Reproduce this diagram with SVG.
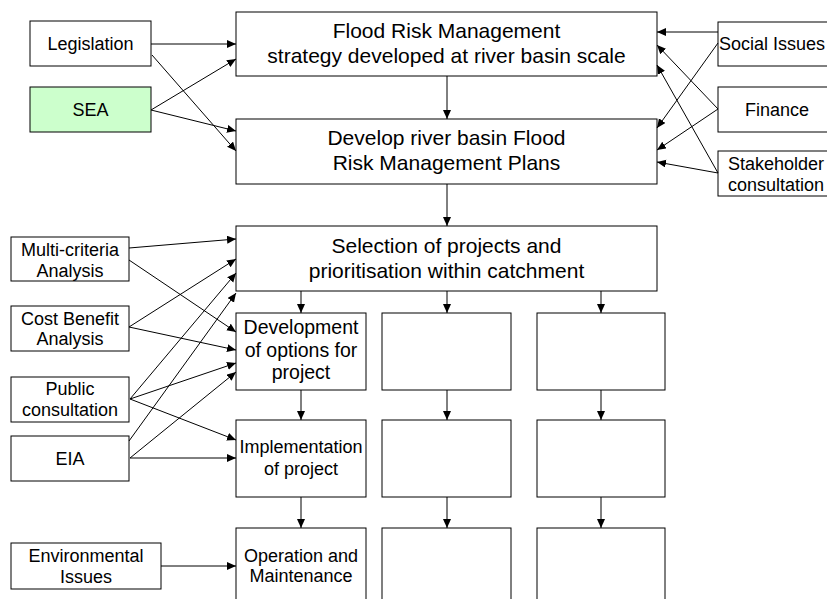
<svg xmlns="http://www.w3.org/2000/svg" width="827" height="599" viewBox="0 0 827 599">
<style>
.b{fill:#fff;stroke:#000;stroke-width:1}
.g{fill:#ccffcc;stroke:#000;stroke-width:1}
.t{font-family:"Liberation Sans",Arial,sans-serif;fill:#000;text-anchor:middle}
.L{font-size:21px}
.S{font-size:18px}
.M{font-size:19.5px}
.c line{stroke:#000;stroke-width:1;marker-end:url(#a)}
</style>
<defs>
<marker id="a" markerUnits="userSpaceOnUse" markerWidth="10" markerHeight="9" refX="9" refY="4" orient="auto">
<path d="M0,0 L9,4 L0,8 z" fill="#000"/>
</marker>
</defs>
<rect width="827" height="599" fill="#fff"/>
<g id="legislation"><rect class="b" x="30" y="21" width="121" height="45"/><text class="t S" x="90.5" y="50">Legislation</text></g>
<g id="sea"><rect class="g" x="30" y="87" width="121" height="45"/><text class="t S" x="90.5" y="116">SEA</text></g>
<g id="strategy"><rect class="b" x="236" y="12" width="421" height="64"/><text class="t L" x="446.5" y="38">Flood Risk Management</text><text class="t L" x="446.5" y="63">strategy developed at river basin scale</text></g>
<g id="plans"><rect class="b" x="236" y="119" width="421" height="65"/><text class="t L" x="446.5" y="145">Develop river basin Flood</text><text class="t L" x="446.5" y="170">Risk Management Plans</text></g>
<g id="social"><rect class="b" x="718" y="22" width="118" height="44"/><text class="t S" x="772" y="50">Social Issues</text></g>
<g id="finance"><rect class="b" x="718" y="87" width="118" height="45"/><text class="t S" x="777" y="116">Finance</text></g>
<g id="stakeholder"><rect class="b" x="718" y="151" width="118" height="45"/><text class="t S" x="776" y="170">Stakeholder</text><text class="t S" x="776" y="190.5">consultation</text></g>
<g id="selection"><rect class="b" x="236" y="226" width="421" height="65"/><text class="t L" x="446.5" y="252.5">Selection of projects and</text><text class="t L" x="446.5" y="277.5">prioritisation within catchment</text></g>
<g id="mca"><rect class="b" x="11" y="237" width="118" height="44"/><text class="t S" x="70" y="256">Multi-criteria</text><text class="t S" x="70" y="276.5">Analysis</text></g>
<g id="cba"><rect class="b" x="11" y="306" width="118" height="45"/><text class="t S" x="70" y="324.5">Cost Benefit</text><text class="t S" x="70" y="345">Analysis</text></g>
<g id="public"><rect class="b" x="11" y="377" width="118" height="45"/><text class="t S" x="70" y="395">Public</text><text class="t S" x="70" y="415.5">consultation</text></g>
<g id="eia"><rect class="b" x="11" y="436" width="118" height="45"/><text class="t S" x="70" y="465">EIA</text></g>
<g id="env"><rect class="b" x="11" y="543" width="150" height="46"/><text class="t S" x="86" y="562">Environmental</text><text class="t S" x="86" y="582.5">Issues</text></g>
<g id="development"><rect class="b" x="236" y="313" width="130" height="77"/><text class="t M" x="301" y="334">Development</text><text class="t M" x="301" y="356.5">of options for</text><text class="t M" x="301" y="379">project</text></g>
<g id="implementation"><rect class="b" x="236" y="420" width="130" height="77"/><text class="t S" x="301" y="453">Implementation</text><text class="t S" x="301" y="474.5">of project</text></g>
<g id="operation"><rect class="b" x="236" y="528" width="130" height="90"/><text class="t S" x="301" y="562">Operation and</text><text class="t S" x="301" y="582">Maintenance</text></g>
<g id="col2r1"><rect class="b" x="382" y="313" width="129" height="77"/></g>
<g id="col2r2"><rect class="b" x="382" y="420" width="129" height="77"/></g>
<g id="col2r3"><rect class="b" x="382" y="528" width="129" height="90"/></g>
<g id="col3r1"><rect class="b" x="537" y="313" width="128" height="77"/></g>
<g id="col3r2"><rect class="b" x="537" y="420" width="128" height="77"/></g>
<g id="col3r3"><rect class="b" x="537" y="528" width="128" height="90"/></g>
<g id="connectors" class="c">
<line x1="151" y1="44" x2="236" y2="44"/>
<line x1="152" y1="55" x2="236" y2="151"/>
<line x1="151" y1="110" x2="236" y2="59"/>
<line x1="151" y1="110" x2="236" y2="131"/>
<line x1="447" y1="76" x2="447" y2="119"/>
<line x1="718" y1="32" x2="657" y2="32"/>
<line x1="718" y1="43" x2="657" y2="128"/>
<line x1="718" y1="109" x2="657" y2="45"/>
<line x1="718" y1="109" x2="657" y2="150"/>
<line x1="718" y1="173" x2="657" y2="65"/>
<line x1="718" y1="173" x2="657" y2="162"/>
<line x1="447" y1="184" x2="447" y2="226"/>
<line x1="129" y1="248" x2="236" y2="239"/>
<line x1="129" y1="260" x2="236" y2="332"/>
<line x1="129" y1="327" x2="236" y2="259"/>
<line x1="129" y1="327" x2="236" y2="350"/>
<line x1="130" y1="399" x2="236" y2="273"/>
<line x1="130" y1="399" x2="236" y2="363"/>
<line x1="130" y1="399" x2="236" y2="440"/>
<line x1="129" y1="441" x2="236" y2="293"/>
<line x1="130" y1="458" x2="236" y2="372"/>
<line x1="130" y1="458" x2="236" y2="458"/>
<line x1="161" y1="566" x2="236" y2="566"/>
<line x1="301" y1="291" x2="301" y2="313"/>
<line x1="447" y1="291" x2="447" y2="313"/>
<line x1="601" y1="291" x2="601" y2="313"/>
<line x1="301" y1="390" x2="301" y2="420"/>
<line x1="447" y1="390" x2="447" y2="420"/>
<line x1="601" y1="390" x2="601" y2="420"/>
<line x1="301" y1="497" x2="301" y2="528"/>
<line x1="447" y1="497" x2="447" y2="528"/>
<line x1="601" y1="497" x2="601" y2="528"/>
</g>
</svg>
